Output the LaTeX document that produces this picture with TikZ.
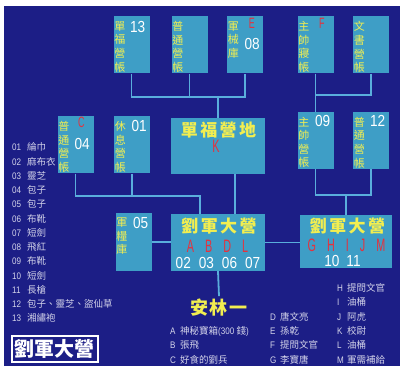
\documentclass[tikz,border=0pt]{standalone}
\usepackage{fontspec}
\setmainfont{Noto Sans CJK TC}
\newfontfamily\narrowfont[FakeStretch=0.85]{Liberation Sans}
\newfontfamily\thinfont[FakeStretch=0.6]{Liberation Sans}
\usetikzlibrary{positioning}
\definecolor{Navy}{HTML}{1C1E86}
\definecolor{Tent}{HTML}{3E9EC6}
\definecolor{Wire}{HTML}{5AAEDC}
\definecolor{Gold}{HTML}{F2EE50}
\definecolor{Mark}{HTML}{E4323E}
\definecolor{Note}{HTML}{D4D4EA}

\begin{document}
\begin{tikzpicture}[x=1pt,y=-1pt,
  tent/.style={fill=Tent,inner sep=0pt,minimum width=36pt,minimum height=57pt},
  camp/.style={fill=Tent,inner sep=0pt,minimum width=94pt,minimum height=57pt},
  vtext/.style={anchor=north,inner sep=0pt,align=center,text=Gold,font=\fontsize{11}{13.6}\selectfont},
  tentno/.style={anchor=west,inner sep=0pt,text=white,font=\narrowfont\fontsize{16}{16}\selectfont},
  redmark/.style={inner sep=0pt,text=Mark,font=\thinfont\fontsize{15}{15}\selectfont},
  camptitle/.style={inner sep=0pt,text=Gold,font=\bfseries\fontsize{17}{17}\selectfont\addfontfeature{LetterSpace=14}},
  campmark/.style={inner sep=0pt,text=Mark,font=\thinfont\fontsize{18}{18}\selectfont},
  campno/.style={inner sep=0pt,text=white,font=\narrowfont\fontsize{16}{16}\selectfont},
  note/.style={anchor=base west,inner sep=0pt,text=Note,font=\fontsize{9.5}{10}\selectfont},
  wire/.style={draw=Wire,line width=1.8pt}]
\useasboundingbox (0,0) rectangle (402,366);
\fill[white] (0,0) rectangle (402,366);
\fill[Navy] (4,6) rectangle (400,366);
% tents, top row
\node[tent] (t1) at (131.5,45) {};
\node[tent] (t2) at (189.5,45) {};
\node[tent] (t3) at (245,45) {};
\node[tent] (t4) at (315.5,45) {};
\node[tent] (t5) at (371,45) {};
% tents, second row
\node[tent] (l1) at (75.5,145) {};
\node[tent] (l2) at (132,145) {};
\node[tent] (m1) at (315.5,140.5) {};
\node[tent] (m2) at (371,140.5) {};
\node[tent,minimum height=58pt] (l3) at (133.5,242) {};
% camps
\node[camp,minimum height=56pt] (k) at (218,146) {};
\node[camp] (L) at (218,242.5) {};
\node[camp,minimum width=92pt,minimum height=53pt] (R) at (346,241.5) {};
% tent labels
\node[vtext] (t1c) at ([shift={(6.5,5)}]t1.north west) {單\\福\\營\\帳};
\node[tentno] (t1n) at ([shift={(16.5,10.5)}]t1.north west) {13};
\node[vtext] (t2c) at ([shift={(6.5,5)}]t2.north west) {普\\通\\營\\帳};
\node[vtext] (t3c) at ([shift={(6.5,5)}]t3.north west) {軍\\械\\庫};
\node[redmark] (t3m) at ([shift={(25,7)}]t3.north west) {E};
\node[tentno] (t3n) at ([shift={(17.5,27.5)}]t3.north west) {08};
\node[vtext] (t4c) at ([shift={(6.5,5)}]t4.north west) {主\\帥\\寢\\帳};
\node[redmark] (t4m) at ([shift={(24.5,7)}]t4.north west) {F};
\node[vtext] (t5c) at ([shift={(6.5,5)}]t5.north west) {文\\書\\營\\帳};
\node[vtext] (l1c) at ([shift={(6.5,5)}]l1.north west) {普\\通\\營\\帳};
\node[redmark] (l1m) at ([shift={(24,6.5)}]l1.north west) {C};
\node[tentno] (l1n) at ([shift={(17,27.5)}]l1.north west) {04};
\node[vtext] (l2c) at ([shift={(6.5,5)}]l2.north west) {休\\息\\營\\帳};
\node[tentno] (l2n) at ([shift={(17.5,10)}]l2.north west) {01};
\node[vtext] (m1c) at ([shift={(6.5,5)}]m1.north west) {主\\帥\\營\\帳};
\node[tentno] (m1n) at ([shift={(17.5,9.5)}]m1.north west) {09};
\node[vtext] (m2c) at ([shift={(6.5,5)}]m2.north west) {普\\通\\營\\帳};
\node[tentno] (m2n) at ([shift={(17,9.5)}]m2.north west) {12};
\node[vtext] (l3c) at ([shift={(6.5,5)}]l3.north west) {軍\\糧\\庫};
\node[tentno] (l3n) at ([shift={(17.5,10.5)}]l3.north west) {05};
% camp labels
\node[camptitle] (kt) at ([shift={(0.5,-16)}]k.center) {單福營地};
\node[campmark] (km) at ([shift={(-2,0)}]k.center) {K};
\node[camptitle] (Lt) at ([shift={(1,-16.5)}]L.center) {劉軍大營};
\node[campmark] (Lm) at ([shift={(-0.5,3.5)}]L.center) {A\hspace{11pt}B\hspace{11pt}D\hspace{11pt}L};
\node[campno] (Ln) at ([shift={(0,20)}]L.center) {02\hspace{8pt}03\hspace{8pt}06\hspace{8pt}07};
\node[camptitle] (Rt) at ([shift={(1.5,-15.5)}]R.center) {劉軍大營};
\node[campmark] (Rm) at ([shift={(0.5,4)}]R.center) {G\hspace{11pt}H\hspace{11pt}I\hspace{11pt}J\hspace{11pt}M};
\node[campno] (Rn) at ([shift={(-3.5,19.5)}]R.center) {10\hspace{7pt}11};
\node[camptitle,inner sep=3pt,font=\bfseries\fontsize{18}{18}\selectfont\addfontfeature{LetterSpace=10}] (anlin) at (219,308) {安林一};
% connectors
\coordinate (busA) at (218,97);
\draw[wire] (t1.south) |- (busA) -| (t3.south);
\draw[wire] (t2.south) -- (t2.south |- busA);
\draw[wire] (k.north) -- (busA);
\coordinate (busB) at (315.5,95);
\draw[wire] (t4.south) -- (m1.north);
\draw[wire] (t5.south) |- (busB);
\coordinate (busC) at (346,195);
\draw[wire] (m1.south) |- (busC) -| (m2.south);
\draw[wire] (busC) -- (R.north);
\coordinate (busD) at (200,196);
\draw[wire] (l1.south) |- (busD) -- (busD |- L.north);
\draw[wire] (l2.south) -- (l2.south |- busD);
\draw[wire] ([xshift=17pt]k.south) -- ([xshift=17pt]L.north);
\draw[wire] (l3.east) -- (l3.east -| L.west);
\draw[wire] (L.east) -- (L.east -| R.west);
\draw[wire] (L.south) -- (anlin.north);
% item list
\node[note] (i01) at (12,151) {\makebox[15pt][l]{\narrowfont 01}綸巾};
\node[note] (i02) at (12,165.25) {\makebox[15pt][l]{\narrowfont 02}麻布衣};
\node[note] (i03) at (12,179.5) {\makebox[15pt][l]{\narrowfont 03}靈芝};
\node[note] (i04) at (12,193.75) {\makebox[15pt][l]{\narrowfont 04}包子};
\node[note] (i05) at (12,208) {\makebox[15pt][l]{\narrowfont 05}包子};
\node[note] (i06) at (12,222.25) {\makebox[15pt][l]{\narrowfont 06}布靴};
\node[note] (i07) at (12,236.5) {\makebox[15pt][l]{\narrowfont 07}短劍};
\node[note] (i08) at (12,250.75) {\makebox[15pt][l]{\narrowfont 08}飛紅};
\node[note] (i09) at (12,265) {\makebox[15pt][l]{\narrowfont 09}布靴};
\node[note] (i10) at (12,279.25) {\makebox[15pt][l]{\narrowfont 10}短劍};
\node[note] (i11) at (12,293.5) {\makebox[15pt][l]{\narrowfont 11}長槍};
\node[note] (i12) at (12,307.75) {\makebox[15pt][l]{\narrowfont 12}包子、靈芝、盜仙草};
\node[note] (i13) at (12,322) {\makebox[15pt][l]{\narrowfont 13}湘繡袍};
% people list
\node[note] (pA) at (170,334.4) {\makebox[10pt][l]{\narrowfont A}神秘寶箱{\narrowfont (300 }錢{\narrowfont )}};
\node[note] (pB) at (170,348.7) {\makebox[10pt][l]{\narrowfont B}張飛};
\node[note] (pC) at (170,363) {\makebox[10pt][l]{\narrowfont C}好食的劉兵};
\node[note] (pD) at (270,320.1) {\makebox[10pt][l]{\narrowfont D}唐文亮};
\node[note] (pE) at (270,334.4) {\makebox[10pt][l]{\narrowfont E}孫乾};
\node[note] (pF) at (270,348.7) {\makebox[10pt][l]{\narrowfont F}提問文官};
\node[note] (pG) at (270,363) {\makebox[10pt][l]{\narrowfont G}李寶唐};
\node[note] (pH) at (337,291.5) {\makebox[10pt][l]{\narrowfont H}提問文官};
\node[note] (pI) at (337,305.8) {\makebox[10pt][l]{\narrowfont I}油桶};
\node[note] (pJ) at (337,320.1) {\makebox[10pt][l]{\narrowfont J}阿虎};
\node[note] (pK) at (337,334.4) {\makebox[10pt][l]{\narrowfont K}校尉};
\node[note] (pL) at (337,348.7) {\makebox[10pt][l]{\narrowfont L}油桶};
\node[note] (pM) at (337,363) {\makebox[10pt][l]{\narrowfont M}軍需補給};
% title
\node[draw=white,line width=1.5pt,minimum width=86pt,minimum height=26pt,inner sep=0pt,text=white,font=\bfseries\fontsize{20}{20}\selectfont] (title) at (55,349) {劉軍大營};
\end{tikzpicture}
\end{document}
